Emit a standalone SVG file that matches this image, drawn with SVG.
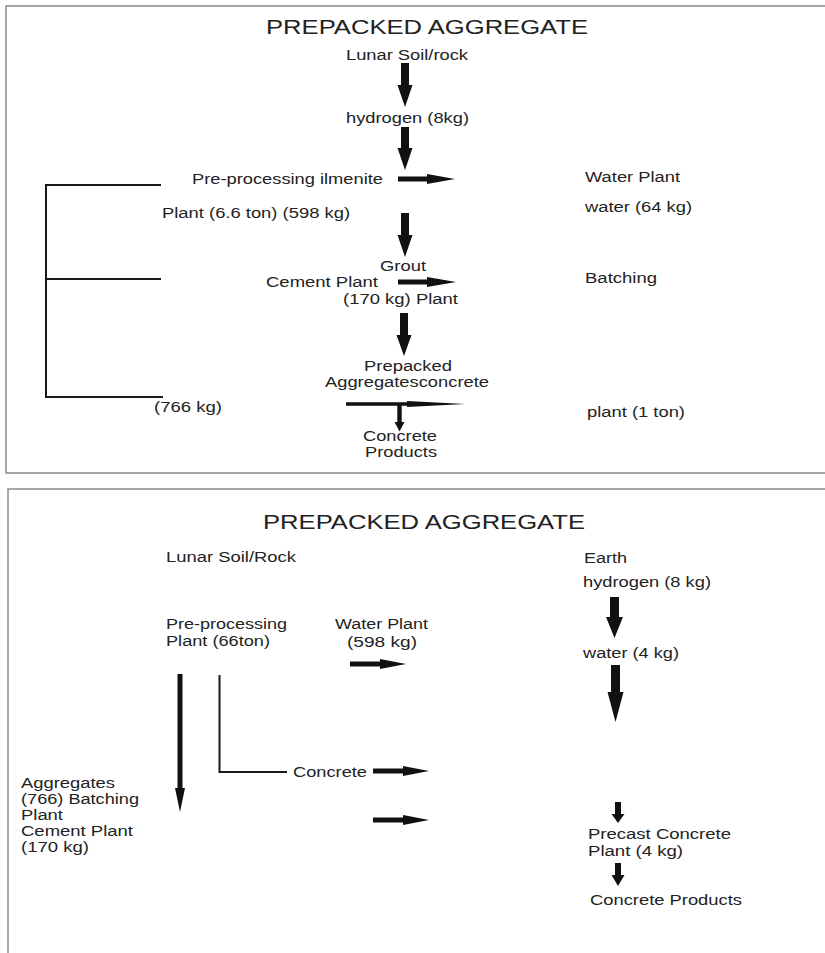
<svg xmlns="http://www.w3.org/2000/svg" width="825" height="953" viewBox="0 0 825 953">
<style>
.t{font-family:"Liberation Sans",Arial,sans-serif;font-size:14px;fill:#222}
.h{font-size:21px}
.a{fill:#111}
.ln{fill:none;stroke:#1a1a1a;stroke-width:2}
.bd{fill:none;stroke:#8a8a8a;stroke-width:1.5}
</style>
<rect width="825" height="953" fill="#fff"/>
<path class="bd" d="M826,6 H6 V473 H826"/>
<path class="bd" d="M826,489 H8 V954"/>

<g id="connectors">
  <polygon class="a" points="401,63 409,63 409,85 412.5,85 405,107 397.5,85 401,85"/>
  <polygon class="a" points="401,127 409,127 409,148 412.5,148 405,170 397.5,148 401,148"/>
  <polygon class="a" points="398,176.5 427,176.5 427,174 455,179 427,184 427,181.5 398,181.5"/>
  <polygon class="a" points="401,213 409,213 409,235 412.5,235 405,257 397.5,235 401,235"/>
  <polygon class="a" points="398,279.5 427,279.5 427,277 456,282 427,287 427,284.5 398,284.5"/>
  <polygon class="a" points="400,313 408,313 408,335 411.5,335 404,356 396.5,335 400,335"/>
  <polygon class="a" points="346,402.3 407,402.3 407,401 465,404 407,407 407,405.7 346,405.7"/>
  <polygon class="a" points="397.3,404 401.7,404 401.7,422 404.5,422 399.5,431.5 394.5,422 397.3,422"/>
  <polyline class="ln" points="161,185 46,185 46,397 163,397"/>
  <line class="ln" x1="46" y1="279" x2="161" y2="279" stroke-width="1.7"/>

  <polygon class="a" points="610,597 619,597 619,617 623,617 614.5,638 606,617 610,617"/>
  <polygon class="a" points="350,661.5 380,661.5 380,659 406,664 380,669 380,666.5 350,666.5"/>
  <polygon class="a" points="611,665 620,665 620,692 623.5,692 615.5,722 607.5,692 611,692"/>
  <polygon class="a" points="177.5,674 182.5,674 182.5,788 185,788 180,812 175,788 177.5,788"/>
  <polyline class="ln" points="219.5,675 219.5,772 287,772" stroke-width="4.5"/>
  <polygon class="a" points="373,768.5 403,768.5 403,766 429,771 403,776 403,773.5 373,773.5"/>
  <polygon class="a" points="373,817.5 403,817.5 403,815 429,820 403,825 403,822.5 373,822.5"/>
  <polygon class="a" points="615,802 621,802 621,814 624.5,814 618,823 611.5,814 615,814"/>
  <polygon class="a" points="615,863 621,863 621,875 624.5,875 618,886 611.5,875 615,875"/>
</g>

<g id="title1"><text class="t h" x="266" y="34" textLength="322" lengthAdjust="spacingAndGlyphs">PREPACKED AGGREGATE</text></g>
<g id="n-lunar1"><text class="t" x="346" y="60" textLength="122" lengthAdjust="spacingAndGlyphs">Lunar Soil/rock</text></g>
<g id="n-hydrogen1"><text class="t" x="346" y="123" textLength="123" lengthAdjust="spacingAndGlyphs">hydrogen (8kg)</text></g>
<g id="n-preproc1"><text class="t" x="192" y="184" textLength="191" lengthAdjust="spacingAndGlyphs">Pre-processing ilmenite</text></g>
<g id="n-waterplant1"><text class="t" x="585" y="182" textLength="95" lengthAdjust="spacingAndGlyphs">Water Plant</text></g>
<g id="n-plant66"><text class="t" x="162" y="218" textLength="188" lengthAdjust="spacingAndGlyphs">Plant (6.6 ton) (598 kg)</text></g>
<g id="n-water64"><text class="t" x="585" y="212" textLength="107" lengthAdjust="spacingAndGlyphs">water (64 kg)</text></g>
<g id="n-grout"><text class="t" x="380" y="271" textLength="46" lengthAdjust="spacingAndGlyphs">Grout</text></g>
<g id="n-cement1"><text class="t" x="266" y="287" textLength="112" lengthAdjust="spacingAndGlyphs">Cement Plant</text></g>
<g id="n-batching1"><text class="t" x="585" y="283" textLength="72" lengthAdjust="spacingAndGlyphs">Batching</text></g>
<g id="n-170plant"><text class="t" x="343" y="304" textLength="115" lengthAdjust="spacingAndGlyphs">(170 kg) Plant</text></g>
<g id="n-prepacked"><text class="t" x="364" y="371" textLength="88" lengthAdjust="spacingAndGlyphs">Prepacked</text><text class="t" x="325" y="387" textLength="164" lengthAdjust="spacingAndGlyphs">Aggregatesconcrete</text></g>
<g id="n-766kg"><text class="t" x="154" y="412" textLength="68" lengthAdjust="spacingAndGlyphs">(766 kg)</text></g>
<g id="n-plant1ton"><text class="t" x="587" y="417" textLength="98" lengthAdjust="spacingAndGlyphs">plant (1 ton)</text></g>
<g id="n-products1"><text class="t" x="363" y="441" textLength="74" lengthAdjust="spacingAndGlyphs">Concrete</text><text class="t" x="365" y="457" textLength="72" lengthAdjust="spacingAndGlyphs">Products</text></g>

<g id="title2"><text class="t h" x="263" y="529" textLength="322" lengthAdjust="spacingAndGlyphs">PREPACKED AGGREGATE</text></g>
<g id="n-lunar2"><text class="t" x="166" y="562" textLength="130" lengthAdjust="spacingAndGlyphs">Lunar Soil/Rock</text></g>
<g id="n-earth"><text class="t" x="584" y="563" textLength="43" lengthAdjust="spacingAndGlyphs">Earth</text></g>
<g id="n-hydrogen2"><text class="t" x="583" y="587" textLength="128" lengthAdjust="spacingAndGlyphs">hydrogen (8 kg)</text></g>
<g id="n-preproc2"><text class="t" x="166" y="629" textLength="121" lengthAdjust="spacingAndGlyphs">Pre-processing</text><text class="t" x="166" y="646" textLength="104" lengthAdjust="spacingAndGlyphs">Plant (66ton)</text></g>
<g id="n-waterplant2"><text class="t" x="335" y="629" textLength="93" lengthAdjust="spacingAndGlyphs">Water Plant</text><text class="t" x="347" y="647" textLength="70" lengthAdjust="spacingAndGlyphs">(598 kg)</text></g>
<g id="n-water4"><text class="t" x="583" y="658" textLength="96" lengthAdjust="spacingAndGlyphs">water (4 kg)</text></g>
<g id="n-concrete2"><text class="t" x="293" y="777" textLength="74" lengthAdjust="spacingAndGlyphs">Concrete</text></g>
<g id="n-aggregates2"><text class="t" x="21" y="788" textLength="94" lengthAdjust="spacingAndGlyphs">Aggregates</text><text class="t" x="21" y="804" textLength="118" lengthAdjust="spacingAndGlyphs">(766) Batching</text><text class="t" x="21" y="820" textLength="42" lengthAdjust="spacingAndGlyphs">Plant</text><text class="t" x="21" y="836" textLength="112" lengthAdjust="spacingAndGlyphs">Cement Plant</text><text class="t" x="21" y="852" textLength="68" lengthAdjust="spacingAndGlyphs">(170 kg)</text></g>
<g id="n-precast"><text class="t" x="588" y="839" textLength="143" lengthAdjust="spacingAndGlyphs">Precast Concrete</text><text class="t" x="588" y="856" textLength="95" lengthAdjust="spacingAndGlyphs">Plant (4 kg)</text></g>
<g id="n-products2"><text class="t" x="590" y="905" textLength="152" lengthAdjust="spacingAndGlyphs">Concrete Products</text></g>
</svg>
